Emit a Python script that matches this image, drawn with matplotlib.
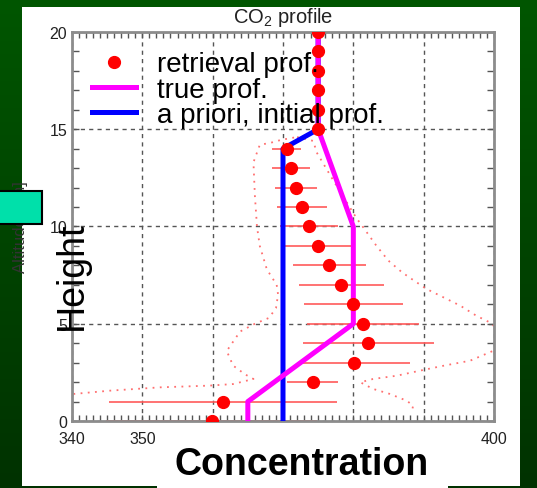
import matplotlib

matplotlib.use("Agg")
import matplotlib.pyplot as plt
import numpy as np
from matplotlib.colors import LinearSegmentedColormap
from matplotlib.patches import Rectangle
from matplotlib.ticker import MultipleLocator

plt.rcParams["font.family"] = ["Liberation Sans", "DejaVu Sans"]
plt.rcParams["mathtext.default"] = "regular"

# --- CO2 profile data (altitude km / concentration ppm) ---
altitude = list(range(21))
retrieval = [359.9, 361.5, 374.2, 380.1, 382.1, 381.4, 380.0, 378.3, 376.6, 375.0, 373.7,
             372.7, 371.8, 371.1, 370.5, 375.0, 375.0, 375.0, 375.0, 375.0, 375.0]
retrieval_err = [15.0, 16.2, 3.6, 7.9, 9.3, 8.0, 7.0, 6.0, 5.2, 4.7, 4.1,
                 3.6, 3.0, 2.7, 2.0, 0, 0, 0, 0, 0, 0]

true_alt = [0, 1, 5, 10, 15, 20]
true_prof = [365, 365, 380, 380, 375, 375]

apriori_alt = [0, 14, 15, 20]
apriori_prof = [370, 370, 375, 375]

# dotted envelope, left and right branches
env_left_x = [340.2, 345.4, 352.5, 359.6, 362.9, 365.8, 364.6, 362.9, 362.0, 363.9, 366.0,
              368.0, 369.0, 369.3, 369.1, 367.7, 366.7, 366.3, 366.0, 365.8, 366.7, 368.2,
              369.8, 372.0]
env_left_alt = [1.39, 1.56, 1.73, 1.82, 1.9, 2.16, 2.4, 2.85, 3.6, 4.6, 5.0,
                5.3, 5.8, 6.5, 7.0, 7.8, 9.0, 10.0, 11.6, 13.3, 14.2, 14.3,
                14.46, 14.6]
env_right_x = [372.0, 374.3, 374.8, 377.1, 380.5, 381.4, 383.3, 385.0, 386.9, 388.3, 390.4,
               392.8, 395.2, 397.5, 399.4, 401.5, 399.9, 396.6, 392.8, 389.5, 386.2,
               382.8, 381.0, 382.8, 385.2, 387.6, 388.5, 388.3]
env_right_alt = [14.6, 14.4, 13.8, 12.4, 10.4, 9.96, 9.0, 8.24, 7.65, 7.3, 6.79,
                 6.36, 5.93, 5.41, 5.07, 4.4, 3.61, 3.1, 2.84, 2.59, 2.33,
                 2.16, 1.99, 1.65, 1.39, 1.04, 0.79, 0.45]

W, H = 537, 489
fig = plt.figure(figsize=(W / 100, H / 100), dpi=100)

# slide background: dark green gradient + white panel
bg = fig.add_axes([0, 0, 1, 1], zorder=-2)
grad = np.linspace(0, 1, 256).reshape(-1, 1)
cmap = LinearSegmentedColormap.from_list("slide", ["#005600", "#003200"])
bg.imshow(grad, aspect="auto", cmap=cmap, extent=[0, 1, 0, 1], origin="upper")
bg.axis("off")
fig.add_artist(Rectangle((22 / W, 1 - 487 / H), (520 - 22) / W, (487 - 8) / H,
                         transform=fig.transFigure, facecolor="white",
                         edgecolor="none", zorder=-1))

ax = fig.add_axes([72 / W, 1 - 422 / H, 422 / W, 389 / H])

dot_style = (0, (1, 3))
ax.plot(env_left_x, env_left_alt, ls=dot_style, color="#ff7070", lw=1.3, zorder=2)
ax.plot(env_right_x, env_right_alt, ls=dot_style, color="#ff7070", lw=1.3, zorder=2)
ax.errorbar(retrieval, altitude, xerr=retrieval_err, fmt="none",
            ecolor="#ff5a5a", elinewidth=1.2, capsize=0, zorder=2.2)
ap, = ax.plot(apriori_prof, apriori_alt, color="#0000ff", lw=3.6, zorder=3,
              label="a priori, initial prof.")
tr, = ax.plot(true_prof, true_alt, color="#ff00ff", lw=3.6, zorder=3.2,
              label="true prof.")
rt, = ax.plot(retrieval, altitude, "o", color="#ff0000", ms=8.5, zorder=4,
              label="retrieval prof.")

ax.set_xlim(340, 400)
ax.set_ylim(0, 20)
ax.xaxis.set_major_locator(MultipleLocator(10))
ax.xaxis.set_minor_locator(MultipleLocator(1))
ax.yaxis.set_major_locator(MultipleLocator(5))
ax.yaxis.set_minor_locator(MultipleLocator(1))
ax.grid(True, which="major", color="#555555", linestyle=(0, (3, 3)), linewidth=1.0)

ax.tick_params(which="both", direction="in", top=True, right=True,
               color="#555555", width=1, labelsize=11.5, labelcolor="#222222")
ax.tick_params(axis="x", which="both", length=4, pad=7)
ax.tick_params(axis="y", which="both", length=5, pad=3.5)
for sp in ax.spines.values():
    sp.set_color("#8c8c8c")
    sp.set_linewidth(2)

ax.set_title("CO$_2$ profile", fontsize=14.5, pad=7, color="#222222")
ax.set_ylabel("Altitude [km]", fontsize=12, color="#333333")
ax.yaxis.set_label_coords(-0.105, 0.5)

ax.legend(handles=[rt, tr, ap], loc="upper left", bbox_to_anchor=(0.047, 0.95),
          frameon=False, fontsize=20, labelspacing=-0.03, handlelength=1.58,
          handletextpad=0.75, borderpad=0, borderaxespad=0, numpoints=1)

# slide overlays drawn on top of the figure
fig.add_artist(Rectangle((-2 / W, 1 - 225 / H), 44 / W, 33 / H, transform=fig.transFigure,
                         facecolor="#00e0aa", edgecolor="black", lw=1.5, zorder=5))
fig.text(72 / W, 1 - 276 / H, "Height", rotation=90, ha="center", va="center",
         fontsize=27, color="black", zorder=6)
fig.add_artist(Rectangle((157 / W, 0), (448 - 157) / W, (489 - 428) / H,
                         transform=fig.transFigure, facecolor="white",
                         edgecolor="none", zorder=5))
fig.text(302 / W, 1 - 475 / H, "Concentration", ha="center", va="baseline",
         fontsize=27, fontweight="bold", color="black", zorder=6)

fig.savefig("out.png", dpi=100)
